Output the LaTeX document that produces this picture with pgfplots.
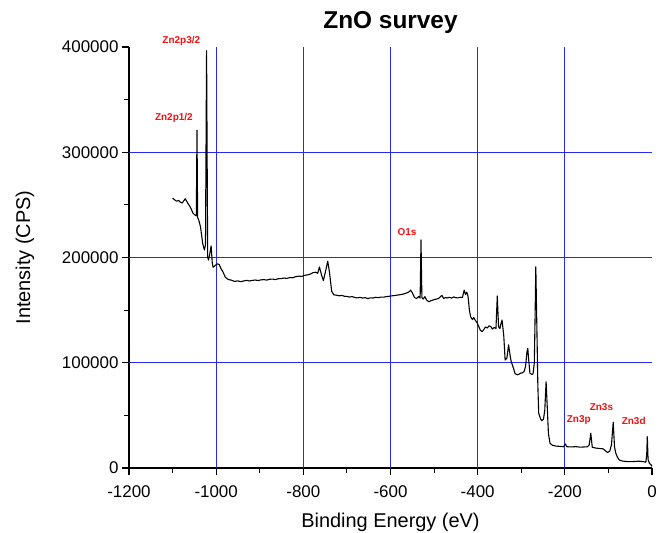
\documentclass[border=0pt]{standalone}
\usepackage{fontspec}
\setmainfont{Liberation Sans}
\usepackage{pgfplots}
\usepackage{pgfplotstable}
\pgfplotsset{compat=1.18}

\definecolor{gridblue}{RGB}{40,40,245}
\definecolor{peakred}{RGB}{245,15,15}

% ZnO XPS survey spectrum: binding energy (eV) vs intensity (CPS)
\pgfplotstableread{
be cps
-1100 256500
-1096 255000
-1091 253500
-1086 254200
-1082 252500
-1078 251800
-1074 254000
-1071 255800
-1068 253800
-1065 251500
-1061 249000
-1057 245800
-1053 242000
-1049 240500
-1045.5 239500
-1044 321000
-1042.5 238000
-1040 235600
-1036 229300
-1033 220000
-1031 213500
-1027 207100
-1024.5 212000
-1022 396500
-1019.5 200000
-1017.5 197600
-1014 205000
-1011.6 211000
-1009 195000
-1007 190700
-1002 192500
-997 194000
-993 193300
-989 189500
-984 186000
-979 181200
-972 179000
-966 178600
-958 177300
-950 177800
-944 177000
-938 177600
-930 178300
-924 177700
-918 178200
-910 178600
-904 178100
-898 178700
-890 179000
-884 178500
-878 179300
-870 179500
-864 179000
-858 179800
-850 180000
-844 180500
-838 180100
-830 181000
-824 180700
-818 181800
-810 182300
-804 182000
-798 183000
-790 183500
-784 184200
-778 185600
-772 186000
-767 185000
-763 191000
-758 183000
-754 178000
-749 187000
-744 196500
-740 186000
-735 168000
-730 164500
-724 164200
-718 163600
-712 164000
-706 163200
-700 163000
-694 162400
-688 162900
-682 162000
-676 161600
-670 162100
-664 161500
-658 161800
-652 161000
-646 161700
-640 161500
-634 162200
-628 161800
-622 162400
-616 162300
-610 162800
-604 163100
-598 163500
-592 163800
-586 164200
-580 164500
-574 165000
-568 165500
-562 166500
-557 167500
-554 169000
-550 166500
-545 162000
-540 161000
-535 163000
-532 161500
-530 216600
-528 162000
-525 160500
-521 162800
-517 159500
-512 158000
-507 159000
-501 159800
-495 160500
-490 161000
-486 162500
-482 164000
-478 161000
-474 162000
-470 161500
-465 162200
-460 161400
-455 162500
-450 161800
-445 161600
-440 162200
-435 162000
-431 169000
-428 165000
-425 167000
-422 163000
-419 150000
-416 143500
-412 141000
-409 143000
-405 140000
-402 138500
-398 135000
-394 131000
-390 129500
-386 131500
-382 134000
-378 133000
-374 135000
-370 134500
-366 132000
-362 133500
-358 132500
-355 163400
-352 134000
-349 132500
-346 138000
-344 140600
-340 125000
-337 102600
-333 104200
-329 117000
-326 108000
-323 101000
-318 95000
-314 89500
-308 88500
-302 90000
-297 90500
-293 92000
-290 97000
-287 110000
-285 113700
-283 103000
-280 90000
-276 89000
-273 89300
-270 100000
-268 150000
-266.6 191300
-264 130000
-262 80000
-260 52000
-256 47000
-252.8 44900
-249 46300
-246 55000
-243 82000
-240 55000
-237.7 33000
-234 23500
-228 21500
-220 20800
-210 20500
-203 20200
-199 22800
-195 20200
-185 20000
-175 20300
-165 19800
-155 20000
-148 20200
-144 22000
-140.5 33000
-137 19700
-130 19000
-120 18500
-112 18200
-106 16000
-102 14800
-97 16000
-93 22000
-89 43500
-86 20000
-83 14000
-79 10000
-75 7600
-70 6800
-60 6200
-50 6000
-40 6200
-30 6500
-20 6000
-14 5500
-12 14000
-10.8 29700
-9 8000
-6 4500
-2 3000
0 1500
}\surveydata

\begin{document}
\begin{tikzpicture}
\useasboundingbox (-129bp,-65bp) rectangle (539bp,468bp);
\begin{axis}[
  at={(0,0)}, anchor=south west,
  scale only axis,
  width=523bp, height=421bp,
  xmin=-1200, xmax=0,
  ymin=0, ymax=400000,
  axis x line*=bottom,
  axis y line*=left,
  axis line style={line width=1.2bp},
  tick style={line width=1.1bp, black},
  tick align=outside,
  major tick length=7bp,
  minor tick length=4.5bp,
  xtick={-1200,-1000,...,0},
  ytick={0,100000,...,400000},
  minor x tick num=1,
  minor y tick num=1,
  scaled y ticks=false,
  /pgf/number format/assume math mode=true,
  yticklabel style={/pgf/number format/fixed, /pgf/number format/1000 sep={}},
  xticklabel style={/pgf/number format/1000 sep={}, yshift=-7bp},
  tick label style={font=\fontsize{17}{20}\selectfont},
  extra x ticks={-1000,-800,-600,-400,-200},
  extra y ticks={100000,200000,300000},
  extra x tick labels={},
  extra y tick labels={},
  extra tick style={grid=major, major tick length=0pt},
  major grid style={gridblue, line width=1bp},
  title={ZnO survey},
  title style={font=\fontsize{24.5}{28}\selectfont\bfseries, at={(axis description cs:0.5,1)}, anchor=base, yshift=13bp},
  xlabel={Binding Energy (eV)},
  ylabel={Intensity (CPS)},
  label style={font=\fontsize{20}{24}\selectfont},
  xlabel style={at={(axis description cs:0.5,-0.128)}, anchor=center},
  ylabel style={at={(axis description cs:-0.199,0.5)}, anchor=center},
  clip=false,
]
\addplot[black, line width=1.1bp, line join=round] table[x=be, y=cps] {\surveydata};

\begin{scope}[every node/.style={text=peakred, font=\fontsize{10}{12}\selectfont\bfseries, anchor=center, inner sep=0pt}]
\node at (axis cs:-1080,405700) {Zn2p3/2};
\node at (axis cs:-1097,332500) {Zn2p1/2};
\node at (axis cs:-562,224500) {O1s};
\node at (axis cs:-168,45100) {Zn3p};
\node at (axis cs:-116,57800) {Zn3s};
\node at (axis cs:-42,44500) {Zn3d};
\end{scope}
\end{axis}
\end{tikzpicture}
\end{document}
